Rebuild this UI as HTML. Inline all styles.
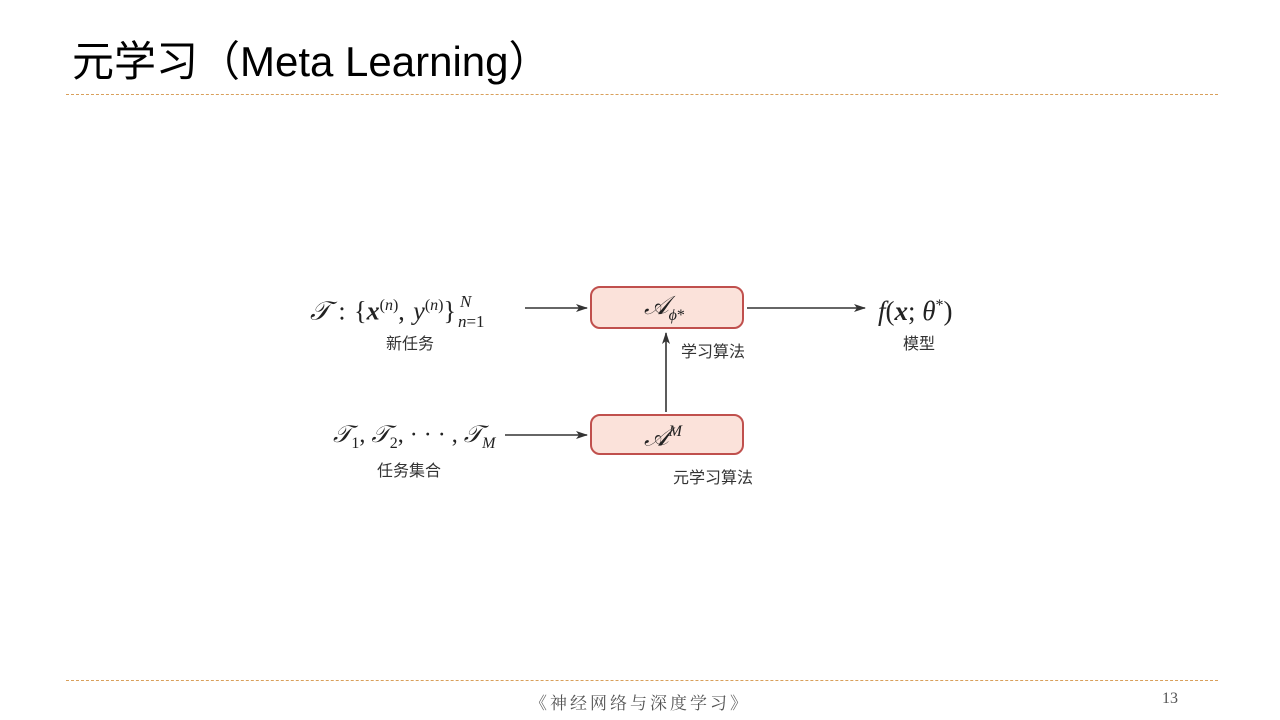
<!DOCTYPE html>
<html><head><meta charset="utf-8">
<style>
html,body{margin:0;padding:0;background:#fff;}
body{width:1280px;height:720px;position:relative;overflow:hidden;font-family:"Liberation Sans","Noto Sans CJK SC",sans-serif;}
.title{position:absolute;left:72px;top:36px;font-size:42px;letter-spacing:0px;color:#000;line-height:52px;white-space:nowrap;}
.hr{position:absolute;left:66px;width:1152px;border-top:1px dashed #d9a05b;}
.foot{position:absolute;top:689px;left:530px;font-family:"Liberation Serif","Noto Serif CJK SC",serif;font-size:17px;letter-spacing:3px;color:#555;white-space:nowrap;}
.pg{position:absolute;top:690px;left:1162px;font-family:"Liberation Serif",serif;font-size:16px;color:#555;}
.m{position:absolute;font-family:"Liberation Serif","DejaVu Serif",serif;font-size:26px;color:#222;white-space:nowrap;line-height:28px;}
.i{font-style:italic;}
.b{font-weight:bold;font-style:italic;}
sup,sub{font-size:16px;}
.cn{position:absolute;font-family:"Noto Sans CJK SC",sans-serif;font-size:16px;color:#333;white-space:nowrap;}
</style></head><body>
<div class="title">元学习（Meta Learning）</div>
<div class="hr" style="top:94px"></div>
<div class="hr" style="top:680px"></div>
<div class="foot">《神经网络与深度学习》</div>
<div class="pg">13</div>

<svg width="1280" height="720" style="position:absolute;left:0;top:0">
<defs><marker id="a" markerWidth="12" markerHeight="8" refX="11" refY="4" orient="auto" markerUnits="userSpaceOnUse"><path d="M0,0 L12,4 L0,8 L3,4 z" fill="#333"/></marker></defs>
<rect x="591" y="287" width="152" height="41" rx="9" fill="#fbe2da" stroke="#c0504d" stroke-width="2"/>
<rect x="591" y="415" width="152" height="39" rx="9" fill="#fbe2da" stroke="#c0504d" stroke-width="2"/>
<g stroke="#333" stroke-width="1.6" fill="none">
<line x1="525" y1="308" x2="587" y2="308" marker-end="url(#a)"/>
<line x1="747" y1="308" x2="865" y2="308" marker-end="url(#a)"/>
<line x1="666" y1="412" x2="666" y2="333" marker-end="url(#a)"/>
<line x1="505" y1="435" x2="587" y2="435" marker-end="url(#a)"/>
</g>
</svg>

<div class="m" style="left:310px;top:292px;word-spacing:2px"><span class="i">𝒯</span>&nbsp;: {<span class="b">x</span><sup>(<span class="i">n</span>)</sup>,&nbsp;<span class="i">y</span><sup>(<span class="i">n</span>)</sup>}<span style="display:inline-block;position:relative;width:46px;height:20px"><span style="position:absolute;left:4px;top:-12px;font-size:17px" class="i">N</span><span style="position:absolute;left:2px;top:8px;font-size:17px"><span class="i">n</span>=1</span></span></div>
<div class="cn" style="left:386px;top:330px">新任务</div>
<div class="m" style="left:644px;top:292px"><span class="i">𝒜</span><sub><span class="i">ϕ</span>*</sub></div>
<div class="cn" style="left:681px;top:338px">学习算法</div>
<div class="m" style="left:878px;top:292px;font-size:27px"><span class="i">f</span>(<span class="b">x</span>;&nbsp;<span class="i">θ</span><sup>*</sup>)</div>
<div class="cn" style="left:903px;top:330px">模型</div>
<div class="m" style="left:333px;top:421px;font-size:24px"><span class="i">𝒯</span><sub>1</sub>, <span class="i">𝒯</span><sub>2</sub>, · · · , <span class="i">𝒯</span><sub class="i">M</sub></div>
<div class="cn" style="left:377px;top:457px">任务集合</div>
<div class="m" style="left:644px;top:418px"><span class="i">𝒜</span><sup class="i">M</sup></div>
<div class="cn" style="left:673px;top:464px">元学习算法</div>
</body></html>
